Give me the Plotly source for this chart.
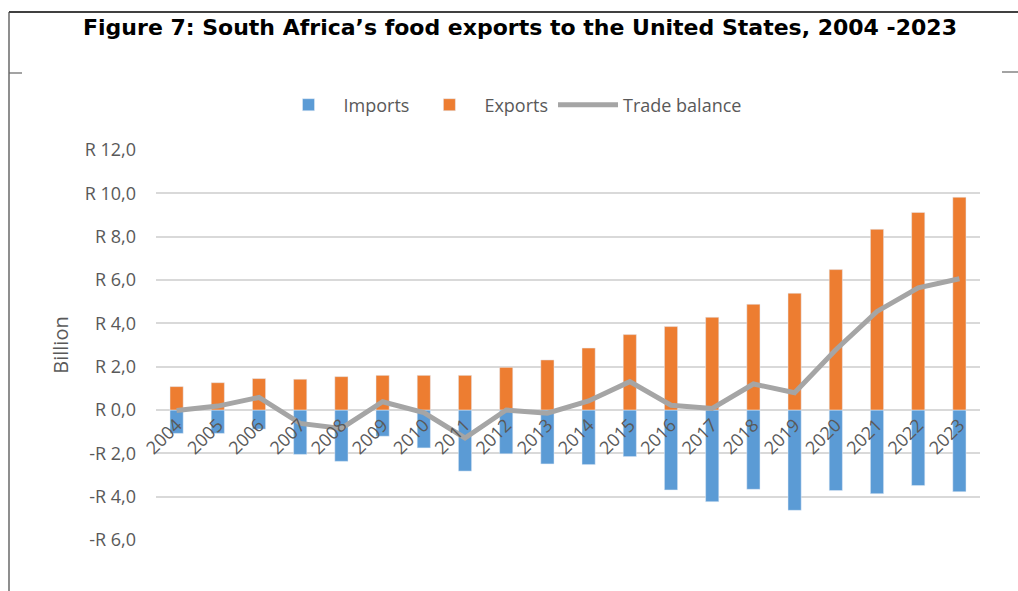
import plotly.graph_objects as go

years = [str(y) for y in range(2004, 2024)]
imports = [-1.08, -1.08, -0.88, -2.05, -2.37, -1.21, -1.75, -2.82, -2.02, -2.49,
           -2.52, -2.15, -3.69, -4.23, -3.66, -4.63, -3.72, -3.86, -3.49, -3.77]
exports = [1.08, 1.26, 1.45, 1.42, 1.54, 1.60, 1.60, 1.60, 1.97, 2.31,
           2.86, 3.48, 3.85, 4.28, 4.88, 5.39, 6.48, 8.34, 9.12, 9.82]
balance = [-0.02, 0.18, 0.58, -0.62, -0.85, 0.38, -0.12, -1.29, 0.0, -0.15,
           0.42, 1.31, 0.22, 0.07, 1.20, 0.80, 2.78, 4.55, 5.64, 6.06]
tick_vals = [-6, -4, -2, 0, 2, 4, 6, 8, 10, 12]
tick_text = ["-R 6,0", "-R 4,0", "-R 2,0", "R 0,0", "R 2,0", "R 4,0",
             "R 6,0", "R 8,0", "R 10,0", "R 12,0"]

W, H = 1018, 591
L, R, T, B = 156, 38, 150, 51
pw, ph = W - L - R, H - T - B


def px(x):
    return (x - L) / pw


def py(y):
    return (H - B - y) / ph


grey = "#595959"
font = "Open Sans"

fig = go.Figure()
fig.add_trace(go.Bar(x=years, y=imports, name="Imports", marker_color="#5B9BD5",
                     width=0.32))
fig.add_trace(go.Bar(x=years, y=exports, name="Exports", marker_color="#ED7D31",
                     width=0.32))
fig.add_trace(go.Scatter(x=years, y=balance, name="Trade balance", mode="lines",
                         line=dict(color="#A5A5A5", width=5)))

shapes = [
    dict(type="line", xref="paper", yref="paper", x0=px(9), x1=px(1018), y0=py(12), y1=py(12),
         line=dict(color="black", width=1.5)),
    dict(type="line", xref="paper", yref="paper", x0=px(9), x1=px(9), y0=py(12), y1=py(591),
         line=dict(color="#444", width=1.2)),
    dict(type="line", xref="paper", yref="paper", x0=px(9), x1=px(22), y0=py(73), y1=py(73),
         line=dict(color="#666", width=1.2)),
    dict(type="line", xref="paper", yref="paper", x0=px(1002), x1=px(1018), y0=py(72), y1=py(72),
         line=dict(color="#666", width=1.2)),
]

fig.update_layout(
    width=W, height=H,
    margin=dict(l=L, r=R, t=T, b=B),
    paper_bgcolor="white", plot_bgcolor="white",
    barmode="relative",
    font=dict(family=font, color=grey, size=18),
    title=dict(text="<b>Figure 7: South Africa’s food exports to the United States, 2004 -2023</b>",
               x=520 / W, xref="container", xanchor="center",
               y=1 - 27 / H, yref="container", yanchor="middle",
               font=dict(family="DejaVu Sans", size=22, color="black")),
    legend=dict(orientation="h", x=px(510), xanchor="center", y=py(105), yanchor="middle",
                font=dict(size=18, color=grey), itemwidth=60, traceorder="normal"),
    shapes=shapes,
    xaxis=dict(anchor="free", position=py(410), showline=False, showgrid=False,
               tickangle=-45, tickfont=dict(size=18, color=grey), ticks=""),
    yaxis=dict(range=[-6, 12], tickvals=tick_vals, ticktext=tick_text,
               showgrid=True, gridcolor="#D9D9D9", gridwidth=1.5, zeroline=False,
               tickfont=dict(size=18, color=grey), ticklabelstandoff=19,
               title=dict(text="Billion", font=dict(size=20, color=grey), standoff=10)),
)

fig.write_html("out.html", config={"displayModeBar": False},
               post_script="document.body.style.margin='0';")
